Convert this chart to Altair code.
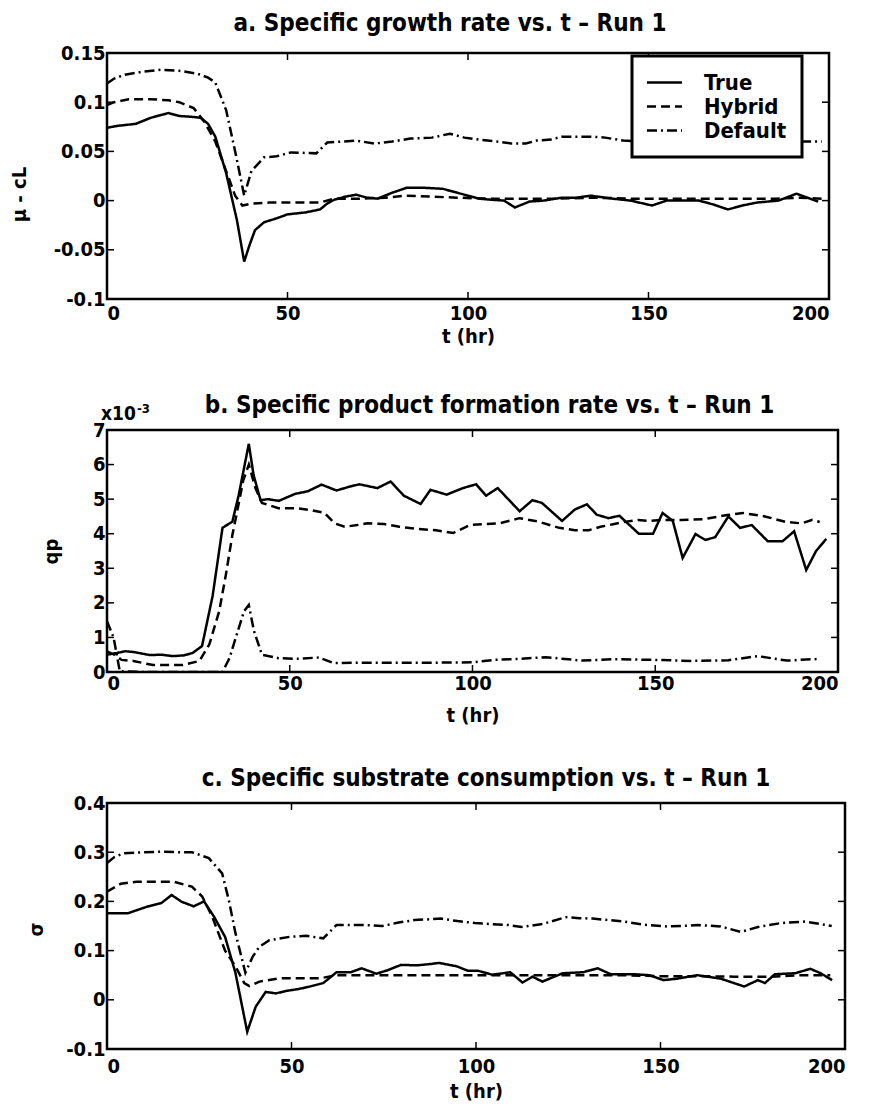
import altair as alt
import pandas as pd

FONT = "Liberation Sans Narrow, DejaVu Sans Condensed, Arial Narrow, sans-serif"

SERIES = ["True", "Hybrid", "Default"]
DASHES = [[1, 0], [9, 5], [10, 4, 2, 4]]
X_TICKS = [0, 50, 100, 150, 200]

TITLES = [
    "a.  Specific growth rate vs. t – Run 1",
    "b. Specific product formation rate vs. t – Run 1",
    "c. Specific substrate consumption vs. t – Run 1",
]
Y_TITLES = ["μ - cL", "qp", "σ"]
X_TITLE = "t (hr)"
EXP_LABEL = ["x10", "-3"]

A_YTICKS = [-0.1, -0.05, 0, 0.05, 0.1, 0.15]
B_YTICKS = [0, 1, 2, 3, 4, 5, 6, 7]
C_YTICKS = [-0.1, 0, 0.1, 0.2, 0.3, 0.4]

# ---------------- panel a ----------------
a_true_t = [0, 3, 8, 12, 17, 20, 24, 26, 28, 30, 33, 36, 38, 39.5, 41, 43.5, 47, 50, 55, 59, 61, 63, 66, 69,
            72, 75, 79, 83, 88, 93, 99, 103, 106, 110, 113, 117, 121, 126, 130, 134, 140, 145, 151, 155, 159,
            164, 168, 172, 176, 180, 186, 191, 194, 197]
a_true_v = [0.074, 0.076, 0.078, 0.084, 0.089, 0.086, 0.085, 0.084, 0.078, 0.065, 0.028, -0.02, -0.062, -0.045,
            -0.03, -0.022, -0.018, -0.014, -0.012, -0.009, -0.003, 0.001, 0.004, 0.006, 0.003, 0.002, 0.008,
            0.013, 0.013, 0.012, 0.006, 0.002, 0.001, 0.0, -0.007, -0.001, 0.0, 0.003, 0.003, 0.005, 0.002,
            0.0, -0.005, 0.0, 0.0, 0.0, -0.004, -0.009, -0.005, -0.002, 0.0, 0.007, 0.003, -0.001]
a_hybrid_t = [0, 2, 6, 12, 17, 20, 24, 27, 30, 33, 35.5, 37.5, 40, 45, 50, 55, 59, 63, 70, 77, 83, 90, 97, 105,
              115, 125, 135, 145, 155, 165, 175, 185, 192, 198]
a_hybrid_v = [0.097, 0.1, 0.103, 0.103, 0.102, 0.1, 0.094, 0.08, 0.06, 0.03, 0.005, -0.005, -0.003, -0.002,
              -0.002, -0.002, -0.002, 0.002, 0.002, 0.003, 0.005, 0.004, 0.003, 0.002, 0.002, 0.002, 0.003,
              0.002, 0.002, 0.002, 0.002, 0.002, 0.003, 0.002]
a_default_t = [0, 2, 5, 10, 15, 20, 25, 28, 30, 33, 35.5, 38, 40, 43.5, 47, 51, 58, 61, 65, 69, 74, 79, 84, 90,
               95, 99, 103, 108, 112, 116, 119, 123, 126, 130, 134, 138, 143, 150, 160, 170, 180, 190, 198]
a_default_v = [0.119, 0.124, 0.128, 0.131, 0.133, 0.132, 0.129, 0.125, 0.12, 0.092, 0.05, 0.005, 0.03, 0.044,
               0.045, 0.049, 0.048, 0.059, 0.06, 0.061, 0.058, 0.06, 0.063, 0.064, 0.068, 0.064, 0.062, 0.06,
               0.058, 0.058, 0.061, 0.062, 0.065, 0.065, 0.065, 0.064, 0.061, 0.06, 0.06, 0.06, 0.06, 0.06, 0.06]

# ---------------- panel b (x10^-3) ----------------
b_true_t = [0, 2.7, 5, 7.2, 11.7, 15, 18, 21, 23.4, 26, 28.9, 31.6, 34.3, 36, 38.8, 40.1, 42, 44, 47, 51.4, 55,
            58.7, 62.8, 66, 69, 74, 77.6, 81.2, 85.8, 88.5, 92.9, 97.4, 101, 103.7, 106.9, 112.9, 116.4, 119,
            124.5, 128, 131.3, 134, 137.2, 140.2, 145.5, 149.4, 152, 154.8, 157.5, 161, 163.7, 166.4, 170,
            173.2, 176.4, 180.8, 184.8, 188, 191.3, 194, 196.8]
b_true_v = [0.5, 0.55, 0.6, 0.58, 0.49, 0.5, 0.46, 0.48, 0.55, 0.75, 2.2, 4.17, 4.35, 5.1, 6.6, 5.7, 4.97, 5.0,
            4.95, 5.15, 5.23, 5.42, 5.25, 5.35, 5.43, 5.32, 5.51, 5.1, 4.86, 5.27, 5.13, 5.32, 5.43, 5.1, 5.32,
            4.65, 4.97, 4.89, 4.37, 4.7, 4.85, 4.55, 4.45, 4.52, 4.0, 4.0, 4.6, 4.37, 3.3, 3.99, 3.82, 3.9,
            4.5, 4.17, 4.25, 3.78, 3.78, 4.07, 2.95, 3.5, 3.85]
b_hybrid_t = [0, 2, 4, 7.2, 12.6, 17, 20.7, 25.3, 28, 30.7, 32.5, 34.3, 35.6, 37.3, 38.8, 40.6, 42.4, 46.9, 52,
              56, 59.5, 62.3, 65, 68.5, 71.2, 75.8, 80, 84.7, 90, 94.7, 99.3, 103, 107.4, 112.9, 118, 123.7,
              128, 131.8, 135, 138.8, 142, 145.3, 148, 152, 157, 163, 169.7, 174, 180, 185.8, 190, 193, 195]
b_hybrid_v = [0.6, 0.5, 0.35, 0.32, 0.2, 0.2, 0.2, 0.32, 0.8, 1.76, 2.8, 3.96, 4.64, 5.55, 6.0, 5.32, 4.89,
              4.74, 4.74, 4.68, 4.6, 4.3, 4.2, 4.25, 4.3, 4.28, 4.2, 4.14, 4.1, 4.02, 4.25, 4.28, 4.3, 4.45,
              4.35, 4.17, 4.1, 4.1, 4.2, 4.28, 4.35, 4.4, 4.37, 4.4, 4.4, 4.42, 4.54, 4.6, 4.5, 4.34, 4.3, 4.4,
              4.34]
b_default_t = [0, 1.8, 3.5, 10, 20, 28, 31.6, 33.5, 35.2, 37.5, 38.8, 40.2, 42.4, 46.9, 52, 58, 62, 70, 80, 90,
               100, 106, 113, 120, 130, 139, 150, 160, 170, 178, 186, 195]
b_default_v = [1.47, 1.0, 0.02, 0.0, 0.0, 0.0, 0.0, 0.4, 0.98, 1.76, 1.94, 1.19, 0.5, 0.4, 0.38, 0.42, 0.26,
               0.27, 0.27, 0.27, 0.28, 0.35, 0.38, 0.43, 0.33, 0.37, 0.35, 0.32, 0.34, 0.46, 0.33, 0.38]

# ---------------- panel c ----------------
c_true_t = [0, 5.7, 8, 11.2, 14.8, 17.5, 20.3, 23.5, 26.3, 29, 32, 34.8, 38, 40.3, 43, 45.8, 48.5, 52, 55,
            58.6, 62.2, 66, 69, 73, 76, 79.7, 84, 88, 90, 94.8, 97.8, 100.6, 104.4, 109.3, 112.6, 115.3, 118,
            123.5, 129, 133, 136.5, 142.7, 147, 150.8, 154.5, 160, 166.3, 172.7, 176.4, 178.3, 181, 186.5,
            190.6, 193.4, 196.5]
c_true_v = [0.176, 0.176, 0.182, 0.19, 0.197, 0.213, 0.199, 0.19, 0.2, 0.169, 0.128, 0.055, -0.065, -0.014,
            0.016, 0.013, 0.018, 0.022, 0.027, 0.034, 0.056, 0.056, 0.064, 0.053, 0.06, 0.071, 0.07, 0.073,
            0.075, 0.068, 0.059, 0.059, 0.051, 0.056, 0.035, 0.047, 0.037, 0.054, 0.056, 0.064, 0.052, 0.052,
            0.05, 0.04, 0.043, 0.05, 0.043, 0.027, 0.04, 0.034, 0.052, 0.054, 0.063, 0.054, 0.04]
c_hybrid_t = [0, 3.8, 8, 13, 18, 23, 25.8, 28.5, 32, 34.8, 37.2, 38.6, 41.3, 46.8, 52, 58, 62, 70, 80, 90, 100,
              110, 120, 130, 140, 150, 160, 170, 180, 188, 196]
c_hybrid_v = [0.22, 0.236, 0.24, 0.24, 0.24, 0.23, 0.21, 0.169, 0.10, 0.068, 0.034, 0.028, 0.037, 0.044,
              0.044, 0.044, 0.05, 0.05, 0.05, 0.05, 0.05, 0.05, 0.05, 0.05, 0.05, 0.048, 0.048, 0.047, 0.047,
              0.05, 0.05]
c_default_t = [0, 2, 4.5, 10, 15, 20, 23, 27.6, 31.2, 33, 34.8, 37.5, 39.5, 41.3, 44, 49.5, 54, 58.6, 62.2,
               69.3, 74.6, 79, 83.3, 90.6, 95, 99.7, 104, 108.8, 112.4, 118, 124.3, 128, 131.6, 136, 140,
               146.3, 151.8, 156, 160, 166.3, 171.8, 176.4, 182.7, 189.3, 196.4]
c_default_v = [0.278, 0.29, 0.298, 0.3, 0.301, 0.3, 0.3, 0.288, 0.257, 0.203, 0.136, 0.055, 0.088, 0.108,
               0.121, 0.128, 0.13, 0.125, 0.152, 0.152, 0.15, 0.157, 0.162, 0.165, 0.16, 0.156, 0.154, 0.152,
               0.148, 0.154, 0.168, 0.166, 0.165, 0.162, 0.159, 0.152, 0.149, 0.15, 0.152, 0.149, 0.138,
               0.148, 0.156, 0.159, 0.15]


def long_df(pairs):
    rows = []
    for name, (ts, vs) in zip(SERIES, pairs):
        for t, v in zip(ts, vs):
            rows.append({"t": t, "v": v, "series": name})
    return pd.DataFrame(rows)


def panel(df, title, title_dx, title_offset, ytitle, ydomain, yticks, width, height, ytitle_x, ytitle_y,
          xlabel_pad, xtitle_pad, legend, extra=None):
    xt = pd.DataFrame({"t": X_TICKS})
    yt = pd.DataFrame({"v": yticks})
    y_axis = alt.Axis(values=yticks, title=ytitle, labelExpr="'' + datum.value",
                      labelPadding=2, titleX=ytitle_x, titleY=ytitle_y, labelOverlap=False,
                      titleAngle=270, titleAlign="center", titleBaseline="middle")
    y_scale = alt.Scale(domain=ydomain, nice=False)
    lines = alt.Chart(df).mark_line(color="black", strokeWidth=2.5, clip=True).encode(
        x=alt.X("t:Q", scale=alt.Scale(domain=[0, 200], nice=False),
                axis=alt.Axis(values=X_TICKS, title=X_TITLE, labelPadding=xlabel_pad,
                              titlePadding=xtitle_pad, labelOverlap=False)),
        y=alt.Y("v:Q", scale=y_scale, axis=y_axis),
        strokeDash=alt.StrokeDash("series:N", scale=alt.Scale(domain=SERIES, range=DASHES),
                                  legend=legend),
    )
    tick_len = 7
    left = alt.Chart(yt).mark_rule(color="black", strokeWidth=1.5).encode(
        y=alt.Y("v:Q", scale=y_scale, axis=y_axis), x=alt.value(0), x2=alt.value(tick_len))
    right = alt.Chart(yt).mark_rule(color="black", strokeWidth=1.5).encode(
        y=alt.Y("v:Q", scale=y_scale, axis=y_axis), x=alt.value(width - tick_len), x2=alt.value(width))
    bottom = alt.Chart(xt).mark_rule(color="black", strokeWidth=1.5).encode(
        x="t:Q", y=alt.value(height - tick_len), y2=alt.value(height))
    top = alt.Chart(xt).mark_rule(color="black", strokeWidth=1.5).encode(
        x="t:Q", y=alt.value(0), y2=alt.value(tick_len))
    layers = [lines, left, right, bottom, top]
    if extra:
        layers += extra
    return alt.layer(*layers).properties(
        width=width, height=height,
        title=alt.TitleParams(title, dx=title_dx, offset=title_offset),
    )


legend_a = alt.Legend(
    orient="none", legendX=525, legendY=3, direction="vertical", title=None,
    fillColor="white", strokeColor="black", padding=15, cornerRadius=0,
    symbolType="M-1.75,0H1.75", symbolSize=400, symbolStrokeWidth=2.5, symbolStrokeColor="black",
    symbolFillColor="transparent", symbolOffset=6,
    labelFont=FONT, labelFontSize=22, labelFontWeight="bold", labelColor="black",
    labelOffset=28, rowPadding=1,
)

chart_a = panel(long_df([(a_true_t, a_true_v), (a_hybrid_t, a_hybrid_v), (a_default_t, a_default_v)]),
                TITLES[0], -18, 7, Y_TITLES[0], [-0.1, 0.15], A_YTICKS, 722, 246, -88, 141, 4, 3, legend_a)

exp_df = pd.DataFrame({"s": [EXP_LABEL[0]]})
sup_df = pd.DataFrame({"s": [EXP_LABEL[1]]})
exp_text = alt.Chart(exp_df).mark_text(align="left", baseline="alphabetic", font=FONT, fontSize=19,
                                       fontWeight="bold", color="black").encode(
    text="s:N", x=alt.value(-6), y=alt.value(-10))
sup_text = alt.Chart(sup_df).mark_text(align="left", baseline="alphabetic", font=FONT, fontSize=13,
                                       fontWeight="bold", color="black").encode(
    text="s:N", x=alt.value(30), y=alt.value(-17))

chart_b = panel(long_df([(b_true_t, b_true_v), (b_hybrid_t, b_hybrid_v), (b_default_t, b_default_v)]),
                TITLES[1], 17, -15, Y_TITLES[1], [0, 7], B_YTICKS, 731, 242, -56, 121, 1, 12, None,
                extra=[exp_text, sup_text])

chart_c = panel(long_df([(c_true_t, c_true_v), (c_hybrid_t, c_hybrid_v), (c_default_t, c_default_v)]),
                TITLES[2], 10, 2, Y_TITLES[2], [-0.1, 0.4], C_YTICKS, 738, 246, -71, 126, 7, 5, None)

base = alt.vconcat(chart_a, chart_b, chart_c, spacing=131, bounds="flush").resolve_scale(
    strokeDash="independent").resolve_legend(strokeDash="independent").properties(
    padding={"left": 7, "top": 10, "right": 5, "bottom": 3},
    background="white",
).configure_view(
    stroke="black", strokeWidth=2.5,
).configure_axis(
    labelFont=FONT, labelFontSize=20, labelFontWeight="bold", labelColor="black",
    titleFont=FONT, titleFontSize=20, titleFontWeight="bold", titleColor="black",
    domain=False, ticks=False, grid=False, labelOverlap=False,
).configure_title(
    font=FONT, fontSize=24, fontWeight="bold", color="black", anchor="middle",
)

try:
    chart = base.configure_legend(strokeWidth=3)
    chart.to_dict()
except Exception:
    chart = base

chart.save("out.html", embed_options={"renderer": "svg", "actions": False})
